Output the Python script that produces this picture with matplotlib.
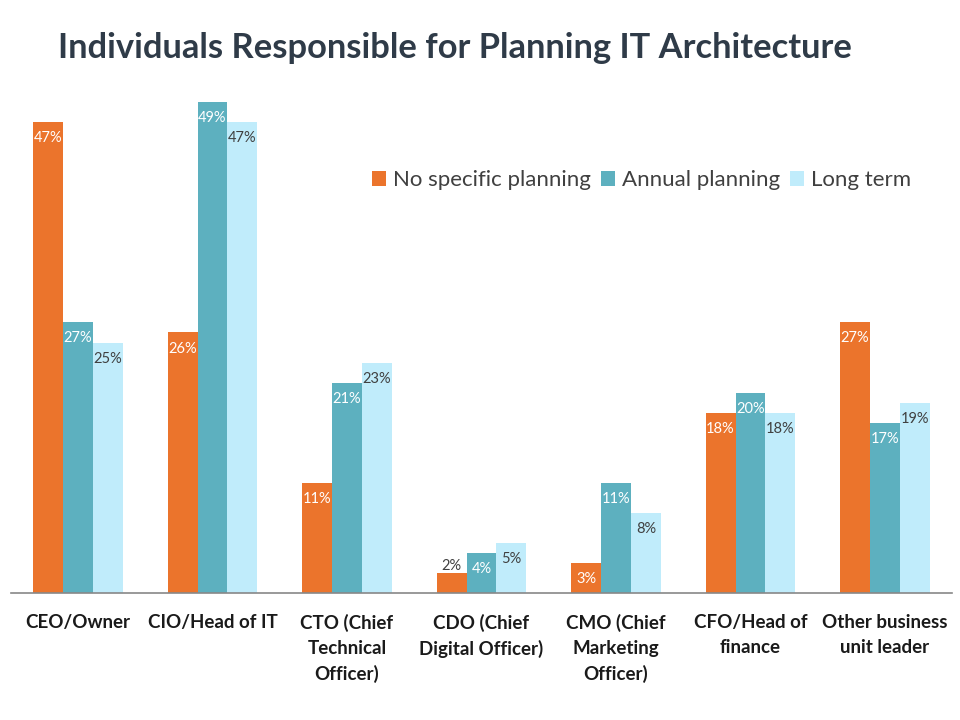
import matplotlib
matplotlib.use('Agg')
import matplotlib.pyplot as plt
import numpy as np

# chart data
categories = ['CEO/Owner', 'CIO/Head of IT', 'CTO (Chief\nTechnical\nOfficer)',
              'CDO (Chief\nDigital Officer)', 'CMO (Chief\nMarketing\nOfficer)',
              'CFO/Head of\nfinance', 'Other business\nunit leader']
series_names = ['No specific planning', 'Annual planning', 'Long term']
no_specific = [47, 26, 11, 2, 3, 18, 27]
annual = [27, 49, 21, 4, 11, 20, 17]
long_term = [25, 47, 23, 5, 8, 18, 19]

colors = ['#EB742C', '#5DB0BF', '#C0ECFB']
label_colors = ['white', 'white', '#404040']

plt.rcParams['font.family'] = ['Lato', 'DejaVu Sans']

fig = plt.figure(figsize=(9.6, 7.2), dpi=100)
ax = fig.add_axes([10.75 / 960, (720 - 593) / 720, 941.5 / 960, 501 / 720])

x = np.arange(len(categories))
w = 0.223
values = [no_specific, annual, long_term]
for i, (vals, name) in enumerate(zip(values, series_names)):
    pos = x + (i - 1) * w
    bars = ax.bar(pos, vals, width=w, color=colors[i], label=name, zorder=2)
    for b, v in zip(bars, vals):
        if v < 3:
            # too small, put label above
            ax.text(b.get_x() + b.get_width() / 2, v + 0.7, f'{v}%', ha='center', va='center',
                    fontsize=10.5, color='#404040')
        else:
            ax.text(b.get_x() + b.get_width() / 2, v - 1.6, f'{v}%', ha='center', va='center',
                    fontsize=10.5, color=label_colors[i])

ax.set_xlim(-0.5, 6.5)
ax.set_ylim(0, 50)
ax.set_yticks([])
ax.set_xticks(x)
ax.set_xticklabels(categories, fontsize=13.5, fontweight='bold', color='#1a1a1a', linespacing=1.55)
ax.tick_params(axis='x', length=0, pad=15)
for s in ['top', 'right', 'left']:
    ax.spines[s].set_visible(False)
ax.spines['bottom'].set_color('#888888')
ax.spines['bottom'].set_linewidth(1.2)

ax.legend(loc='upper left', bbox_to_anchor=(352 / 941.5, (593 - 161) / 501), ncol=3, frameon=False,
          fontsize=16, handlelength=0.65, handleheight=0.65, handletextpad=0.3, columnspacing=0.45,
          labelcolor='#404040', borderaxespad=0)

fig.text(58 / 960, 1 - 48 / 720, 'Individuals Responsible for Planning IT Architecture',
         fontsize=24.8, fontweight='bold', color='#2f3b48', ha='left', va='center')

fig.savefig('out.png', dpi=100)
